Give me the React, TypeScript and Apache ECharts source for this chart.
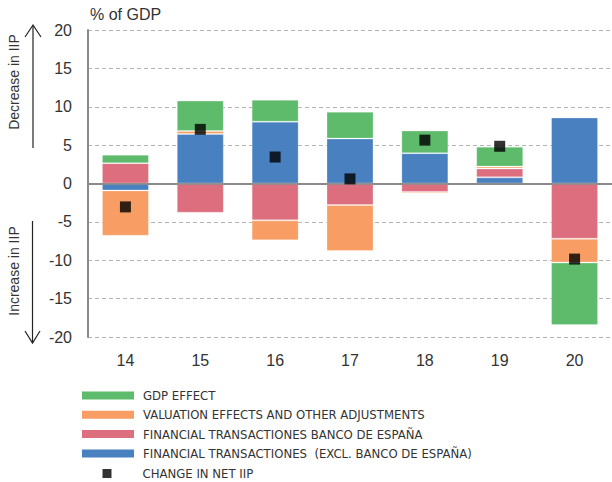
import React, { useEffect, useRef } from "react";
import * as echarts from "echarts";

const years = ["14", "15", "16", "17", "18", "19", "20"];
const gdpEffect = [1.1, 3.95, 2.85, 3.5, 2.95, 2.6, -8.15];
const valuationEffects = [-5.9, 0.4, -2.6, -6.0, -0.2, 0.25, -3.1];
const bdeTransactions = [2.65, -3.8, -4.8, -2.8, -1.1, 1.15, -7.2];
const otherTransactions = [-0.9, 6.45, 8.05, 5.85, 3.95, 0.8, 8.6];
const netIIP = [-3.05, 7.05, 3.45, 0.6, 5.65, 4.85, -9.85];

const NAME_GDP = "GDP EFFECT";
const NAME_VAL = "VALUATION EFFECTS AND OTHER ADJUSTMENTS";
const NAME_BDE = "FINANCIAL TRANSACTIONES BANCO DE ESPAÑA";
const NAME_OTH = "FINANCIAL TRANSACTIONES  (EXCL. BANCO DE ESPAÑA)";
const NAME_NET = "CHANGE IN NET IIP";

const FONT = "'Liberation Sans', Arial, sans-serif";
const NARROW = "'DejaVu Sans Condensed', 'Liberation Sans', sans-serif";

export default function App() {
  const ref = useRef<HTMLDivElement>(null);
  useEffect(() => {
    if (!ref.current) return;
    const chart = echarts.init(ref.current, undefined, { renderer: "svg" });
    const barStyle = (color: string) => ({
      color,
      borderColor: "rgba(255,255,255,0.25)",
      borderWidth: 1,
    });
    const bar = (name: string, data: number[], color: string, extra: any = {}) => ({
      type: "bar",
      name,
      stack: "total",
      data,
      barWidth: 47,
      itemStyle: barStyle(color),
      ...extra,
    });
    chart.setOption({
      animation: false,
      grid: { left: 88, right: 0, top: 30, bottom: 145 },
      xAxis: {
        type: "category",
        data: years,
        axisLine: { lineStyle: { color: "#8a8a8a", width: 2 } },
        axisTick: { inside: true, length: 5, lineStyle: { color: "#aaa" } },
        axisLabel: { fontFamily: FONT, fontSize: 16, color: "#333", margin: 15 },
      },
      yAxis: {
        type: "value",
        min: -20,
        max: 20,
        interval: 5,
        axisLine: { show: true, lineStyle: { color: "#8a8a8a", width: 2 } },
        axisTick: { show: false },
        axisLabel: { fontFamily: FONT, fontSize: 16, color: "#333", margin: 16 },
        splitLine: { lineStyle: { color: "#b5b5b5", width: 1, type: [4, 3] } },
      },
      legend: [
        {
          orient: "vertical",
          left: 82,
          top: 389,
          padding: 0,
          itemWidth: 52,
          itemHeight: 8,
          itemGap: 6.3,
          icon: "rect",
          itemStyle: { borderWidth: 0 },
          textStyle: { fontFamily: NARROW, fontSize: 13, color: "#333", padding: [0, 0, 0, 4] },
          data: [NAME_GDP, NAME_VAL, NAME_BDE, NAME_OTH],
          selectedMode: false,
        },
        {
          orient: "vertical",
          left: 102.5,
          top: 467,
          padding: 0,
          itemWidth: 9,
          itemHeight: 9,
          icon: "rect",
          textStyle: { fontFamily: NARROW, fontSize: 13, color: "#333", padding: [0, 0, 0, 26] },
          data: [NAME_NET],
          selectedMode: false,
        },
      ],
      graphic: [
        {
          type: "text",
          x: 90,
          y: 14,
          style: { text: "% of GDP", fontFamily: FONT, fontSize: 16, fill: "#333", verticalAlign: "middle" },
        },
        {
          type: "text",
          x: 14,
          y: 82,
          rotation: Math.PI / 2,
          style: { text: "Decrease in IIP", fontFamily: FONT, fontSize: 14, fill: "#333", align: "center", verticalAlign: "middle" },
        },
        {
          type: "text",
          x: 14,
          y: 271,
          rotation: Math.PI / 2,
          style: { text: "Increase in IIP", fontFamily: FONT, fontSize: 14, fill: "#333", align: "center", verticalAlign: "middle" },
        },
        { type: "line", shape: { x1: 33, y1: 148, x2: 33, y2: 25 }, style: { stroke: "#222", lineWidth: 1.2 } },
        { type: "polyline", shape: { points: [[25, 37], [33, 25], [41, 37]] }, style: { stroke: "#222", lineWidth: 1.2, fill: null } },
        { type: "line", shape: { x1: 32.5, y1: 221, x2: 32.5, y2: 343 }, style: { stroke: "#222", lineWidth: 1.2 } },
        { type: "polyline", shape: { points: [[25, 331], [32.5, 343], [40, 331]] }, style: { stroke: "#222", lineWidth: 1.2, fill: null } },
      ],
      series: [
        bar(NAME_OTH, otherTransactions, "#4880c0"),
        bar(NAME_BDE, bdeTransactions, "#dc6e7e"),
        bar(NAME_VAL, valuationEffects, "#f89d63"),
        bar(NAME_GDP, gdpEffect, "#5dbb6b", {
          markLine: {
            silent: true,
            symbol: "none",
            label: { show: false },
            lineStyle: { color: "#8a8a8a", width: 1.5, type: "solid" },
            data: [{ yAxis: 0 }],
          },
        }),
        {
          type: "scatter",
          name: NAME_NET,
          data: netIIP,
          symbol: "rect",
          symbolSize: 11,
          itemStyle: { color: "#000" },
          z: 5,
        },
      ],
    });
    return () => chart.dispose();
  }, []);
  return (
    <div
      ref={ref}
      style={{ position: "fixed", left: 0, top: 0, width: 612, height: 482, background: "#fff" }}
    />
  );
}
